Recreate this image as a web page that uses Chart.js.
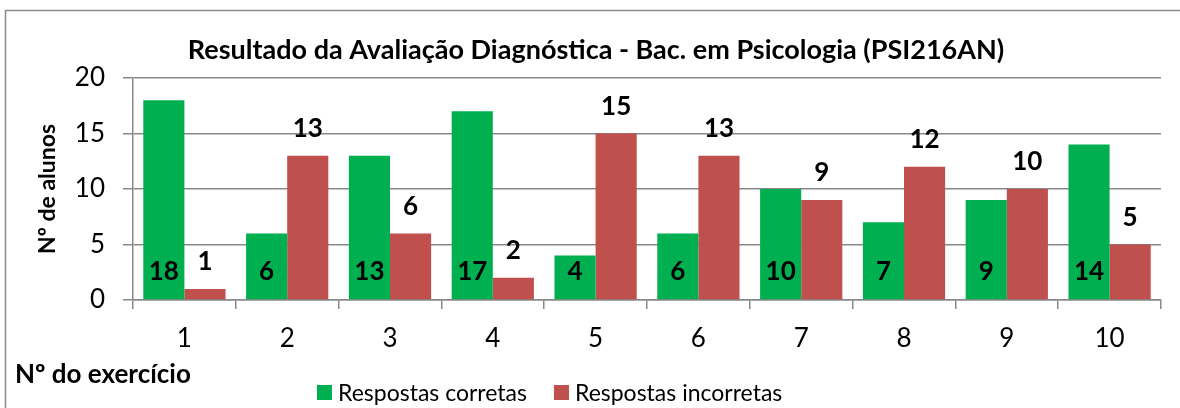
<!DOCTYPE html>
<html>
<head>
<meta charset="utf-8">
<script src="https://cdn.jsdelivr.net/npm/chart.js@4/dist/chart.umd.min.js"></script>
<style>
  html, body { margin: 0; padding: 0; background: #fff; }
  #wrap { width: 1180px; height: 408px; }
</style>
</head>
<body>
<div id="wrap"><canvas id="chart" width="1180" height="408"></canvas></div>
<script>
const exercicios = ['1','2','3','4','5','6','7','8','9','10'];
const corretas   = [18, 6, 13, 17, 4, 6, 10, 7, 9, 14];
const incorretas = [1, 13, 6, 2, 15, 13, 9, 12, 10, 5];

const titulo = 'Resultado da Avaliação Diagnóstica - Bac. em Psicologia (PSI216AN)';
const FONT = 'Lato, "Open Sans", sans-serif';
const VERDE = '#00B050';
const VERMELHO = '#C0504D';
const CINZA = '#898989';

// moldura, título, legenda e rótulos desenhados à mão
const extras = {
  id: 'extras',
  beforeDraw(chart) {
    const c = chart.ctx;
    c.save();
    c.strokeStyle = '#8c8c8c';
    c.lineWidth = 1.5;
    c.beginPath();
    c.moveTo(5.5, 408);
    c.lineTo(5.5, 10.5);
    c.lineTo(1180, 10.5);
    c.stroke();
    c.restore();
  },
  afterDraw(chart) {
    const c = chart.ctx;
    c.save();
    c.fillStyle = '#000';
    c.textBaseline = 'alphabetic';

    c.font = 'bold 27px ' + FONT;
    c.textAlign = 'center';
    c.fillText(titulo, 596, 59);

    c.font = 'bold 26px ' + FONT;
    c.textAlign = 'left';
    c.fillText('Nº do exercício', 15, 383);

    // legenda
    c.font = '23px ' + FONT;
    let x = 317;
    chart.data.datasets.forEach(ds => {
      c.fillStyle = ds.backgroundColor;
      c.fillRect(x, 385, 15, 15);
      c.fillStyle = '#000';
      c.fillText(ds.label, x + 21, 401);
      x += 21 + c.measureText(ds.label).width + 27;
    });
    c.restore();
  },
  afterDatasetsDraw(chart) {
    const c = chart.ctx;
    const y0 = chart.scales.y.getPixelForValue(0);
    c.save();
    c.font = 'bold 26px ' + FONT;
    c.fillStyle = '#000';
    c.textAlign = 'center';
    c.textBaseline = 'middle';
    chart.data.datasets.forEach((ds, i) => {
      chart.getDatasetMeta(i).data.forEach((bar, j) => {
        const y = i === 0 ? y0 - 28 : bar.y - 27;
        c.fillText(String(ds.data[j]), bar.x, y);
      });
    });
    c.restore();
  }
};

new Chart(document.getElementById('chart'), {
  type: 'bar',
  data: {
    labels: exercicios,
    datasets: [
      { label: 'Respostas corretas', data: corretas, backgroundColor: VERDE },
      { label: 'Respostas incorretas', data: incorretas, backgroundColor: VERMELHO }
    ]
  },
  options: {
    responsive: false,
    animation: false,
    layout: { padding: { top: 78, right: 19, bottom: 0, left: 0 } },
    datasets: { bar: { categoryPercentage: 0.8, barPercentage: 1.0 } },
    plugins: {
      legend: { display: false },
      title: { display: false },
      tooltip: { enabled: false }
    },
    scales: {
      x: {
        afterFit(s) { s.height = 108; },
        grid: { drawOnChartArea: false, tickLength: 9, color: CINZA, lineWidth: 1.5 },
        border: { color: CINZA, width: 1.5 },
        ticks: { color: '#000', font: { family: FONT, size: 26 }, padding: 14, maxRotation: 0 }
      },
      y: {
        min: 0, max: 20,
        afterFit(s) { s.width = 133; },
        ticks: { stepSize: 5, color: '#000', font: { family: FONT, size: 26 }, padding: 18 },
        grid: { color: CINZA, lineWidth: 1.5, tickLength: 10 },
        border: { color: CINZA, width: 1.5 },
        title: {
          display: true, text: 'Nº de alunos', color: '#000',
          font: { family: FONT, size: 23, weight: 'bold' },
          padding: { top: 34, bottom: 0 }
        }
      }
    }
  },
  plugins: [extras]
});
</script>
</body>
</html>
